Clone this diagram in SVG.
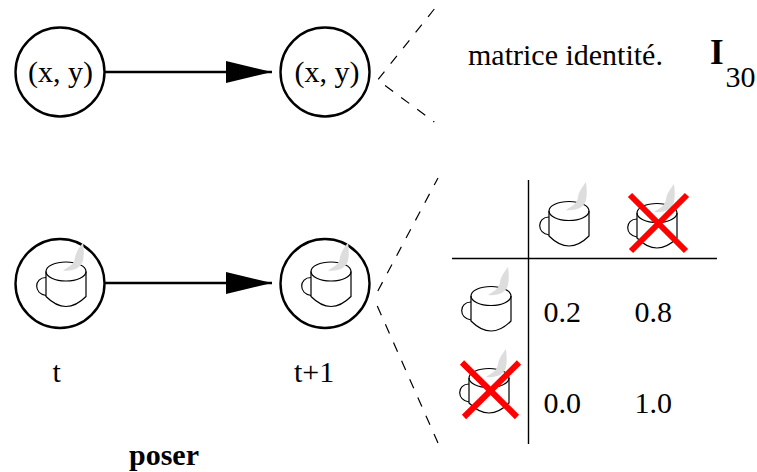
<svg xmlns="http://www.w3.org/2000/svg" xmlns:xlink="http://www.w3.org/1999/xlink" width="757" height="472" viewBox="0 0 757 472">
<style>
.n{fill:#fff;stroke:#000;stroke-width:2.4}
.t{font-family:"Liberation Serif",serif;font-size:30px;fill:#000}
.e{stroke:#000;stroke-width:2.4;fill:none}
.d{stroke:#000;stroke-width:1.2;fill:none;stroke-dasharray:10 10}
.g{stroke:#000;stroke-width:1.4;fill:none}
.x{stroke:#f00;stroke-width:6;fill:none}
.m{stroke:#000;stroke-width:1.2;fill:none}
</style>
<defs>
<marker id="a" markerUnits="userSpaceOnUse" markerWidth="48" markerHeight="24" refX="46" refY="12" orient="auto"><path d="M0 1L46 12L0 23Z" fill="#000"/></marker>
<g id="mug">
<path class="m" d="M-20 0V25C-14 31 -8 35 0 35C8 35 14 31 20 25V0"/>
<ellipse class="m" cx="0" cy="0" rx="20" ry="9.5"/>
<path class="m" d="M-20 6C-26 6 -29.3 10 -29.3 14.5C-29.3 19 -26 23 -20 24"/>
<path d="M-3 -1C3 -5 8 -7 9 -14C10 -20 14 -25 17 -29C18 -22 18 -16 17 -11C15 -3 7 0 -3 -1Z" fill="#ddd"/>
</g>
</defs>
<g id="connectors">
<line class="e" x1="105" y1="72" x2="272" y2="72" marker-end="url(#a)"/>
<line class="e" x1="105" y1="283" x2="272" y2="283" marker-end="url(#a)"/>
<path class="d" d="M434.3 9L377.7 80L434.3 122"/>
<path class="d" stroke-dashoffset="2" d="M438 178L377.3 292"/>
<path class="d" d="M377.3 306L438 443"/>
</g>
<g id="n1"><circle class="n" cx="60" cy="72" r="44.5"/><text class="t" x="60.5" y="82" text-anchor="middle">(x, y)</text></g>
<g id="n2"><circle class="n" cx="325" cy="72" r="44.5"/><text class="t" x="327" y="82" text-anchor="middle">(x, y)</text></g>
<g id="n3"><circle class="n" cx="60" cy="283.5" r="44.5"/><use xlink:href="#mug" href="#mug" x="66" y="271.5"/></g>
<g id="n4"><circle class="n" cx="325" cy="283.5" r="44.5"/><use xlink:href="#mug" href="#mug" x="331" y="271.5"/></g>
<g id="labels">
<text class="t" x="52.5" y="382">t</text>
<text class="t" x="294" y="382">t+1</text>
<text class="t" x="129" y="465" font-weight="bold">poser</text>
<text class="t" x="468" y="65">matrice identité.</text>
<text x="710" y="64" font-family="Liberation Serif,serif" font-weight="bold" font-size="35">I</text>
<text class="t" x="725.5" y="87">30</text>
</g>
<g id="table">
<line class="g" x1="528.5" y1="180" x2="528.5" y2="444"/>
<line class="g" x1="452" y1="258.5" x2="717" y2="258.5"/>
<use xlink:href="#mug" href="#mug" x="569" y="211"/>
<use xlink:href="#mug" href="#mug" x="657" y="213"/>
<path class="x" d="M630 195L686 251M687 195L631 251"/>
<use xlink:href="#mug" href="#mug" x="491" y="296"/>
<use xlink:href="#mug" href="#mug" x="489" y="378"/>
<path class="x" d="M462 362.5L517 417M519 362.5L464 417"/>
<text class="t" x="543.5" y="322">0.2</text>
<text class="t" x="634.5" y="322">0.8</text>
<text class="t" x="543.5" y="413">0.0</text>
<text class="t" x="634.5" y="413">1.0</text>
</g>
</svg>
